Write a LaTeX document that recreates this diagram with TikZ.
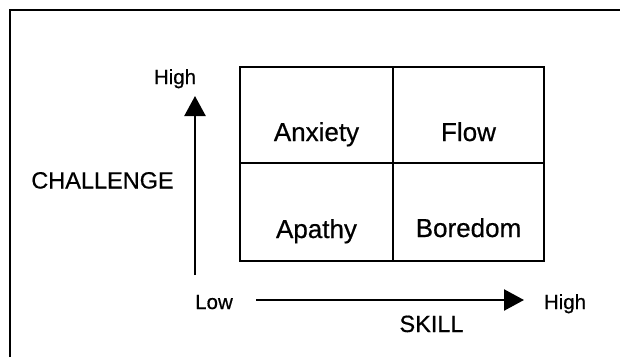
\documentclass[tikz,border=0pt]{standalone}
\usepackage{fontspec}
\setmainfont[FakeBold=0.6,AutoFakeBold=0.6]{Liberation Sans}
\usetikzlibrary{arrows.meta}
\begin{document}
\begin{tikzpicture}[x=1pt,y=-1pt,
  frameline/.style={line width=2pt},
  gridline/.style={line width=1.6pt},
  axis/.style={line width=2.4pt,-{Triangle[length=20pt,width=21pt]}},
  cell/.style={anchor=base,inner sep=0pt,font=\fontsize{26}{30}\selectfont\bfseries},
  axislabel/.style={anchor=base,inner sep=0pt,font=\fontsize{23.5}{28}\selectfont\bfseries},
  endlabel/.style={anchor=base,inner sep=0pt,font=\fontsize{20.5}{24}\selectfont\bfseries}]
\useasboundingbox (0,0) rectangle (622,357);
% open frame: top and left edges only
\coordinate (fl) at (9.5,357);
\coordinate (fc) at (9.5,9.5);
\coordinate (fr) at (620,9.5);
\draw[frameline] (fl) -- (fc) -- (fr);
% 2x2 grid
\coordinate (g00) at (240,67);
\coordinate (g22) at (544,261);
\coordinate (gtop) at (393,67);
\coordinate (gbot) at (393,261);
\coordinate (gleft) at (240,163);
\coordinate (gright) at (544,163);
\draw[gridline] (g00) rectangle (g22);
\draw[gridline] (gtop) -- (gbot);
\draw[gridline] (gleft) -- (gright);
% quadrant labels
\node[cell] (anxiety) at (316.5,141) {Anxiety};
\node[cell] (flow) at (468.5,141) {Flow};
\node[cell] (apathy) at (316.5,238) {Apathy};
\node[cell] (boredom) at (468.5,237) {Boredom};
% challenge axis
\coordinate (c0) at (195,275);
\coordinate (c1) at (195,96);
\draw[axis] (c0) -- (c1);
\node[endlabel] (chigh) at (175,84) {High};
\node[axislabel] (challenge) at (102.5,188.5) {CHALLENGE};
% skill axis
\coordinate (s0) at (256,300);
\coordinate (s1) at (524,300);
\draw[axis] (s0) -- (s1);
\node[endlabel] (slow) at (214,309) {Low};
\node[endlabel] (shigh) at (565,309) {High};
\node[axislabel] (skill) at (431.5,332) {SKILL};
\end{tikzpicture}
\end{document}
